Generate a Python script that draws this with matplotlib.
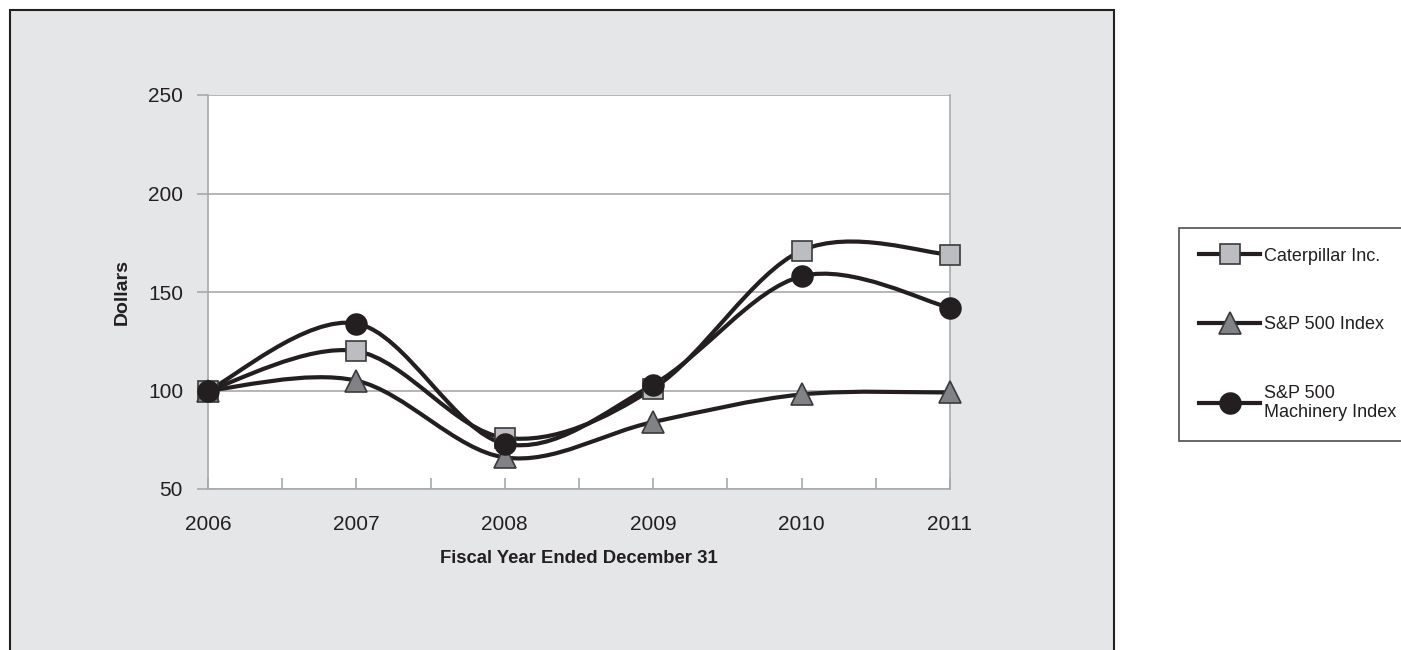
import matplotlib
matplotlib.use('Agg')
import matplotlib.pyplot as plt
from matplotlib.path import Path
from matplotlib.patches import PathPatch, Rectangle
from matplotlib.lines import Line2D

plt.rcParams['font.family'] = ['Liberation Sans Narrow', 'Liberation Sans', 'DejaVu Sans']

years = [2006, 2007, 2008, 2009, 2010, 2011]
caterpillar = [100, 120, 76, 101, 171, 169]
sp500 = [100, 105, 66, 84, 98, 99]
machinery = [100, 134, 73, 103, 158, 142]
series_names = ['Caterpillar Inc.', 'S&P 500 Index', 'S&P 500\nMachinery Index']


# smoothed line like the spreadsheet charts (bezier through the points)
def smooth_path(xs, ys):
    n = len(xs)
    verts = [(xs[0], ys[0])]
    codes = [Path.MOVETO]
    for i in range(n - 1):
        x0, y0 = xs[max(i - 1, 0)], ys[max(i - 1, 0)]
        x1, y1 = xs[i], ys[i]
        x2, y2 = xs[i + 1], ys[i + 1]
        x3, y3 = xs[min(i + 2, n - 1)], ys[min(i + 2, n - 1)]
        c1 = (x1 + (x2 - x0) / 6.0, y1 + (y2 - y0) / 6.0)
        c2 = (x2 - (x3 - x1) / 6.0, y2 - (y3 - y1) / 6.0)
        verts += [c1, c2, (x2, y2)]
        codes += [Path.CURVE4] * 3
    return Path(verts, codes)


fig = plt.figure(figsize=(14.01, 6.5), dpi=100)
fig.patch.set_facecolor('white')

# gray panel behind the chart
fig.patches.append(Rectangle((10 / 1401, -0.1), (1114 - 10) / 1401, 1.1 - 10 / 650,
                             transform=fig.transFigure, facecolor='#e5e6e8',
                             edgecolor='#231f20', linewidth=1.5, zorder=-5))

ax = fig.add_axes([208 / 1401, 1 - 489 / 650, (950 - 208) / 1401, (489 - 95) / 650])
ax.set_facecolor('white')

styles = [
    dict(marker='s', markersize=14, markerfacecolor='#bcbdc0', markeredgecolor='#3a3a3c'),
    dict(marker='^', markersize=16, markerfacecolor='#808285', markeredgecolor='#3a3a3c'),
    dict(marker='o', markersize=15, markerfacecolor='#231f20', markeredgecolor='#231f20'),
]
handles = []
for vals, st, name in zip([caterpillar, sp500, machinery], styles, series_names):
    ax.add_patch(PathPatch(smooth_path(years, vals), facecolor='none',
                           edgecolor='#231f20', linewidth=3.0, zorder=3,
                           capstyle='round', joinstyle='round'))
    ax.plot(years, vals, linestyle='none', zorder=4, clip_on=False,
            markeredgewidth=1.2, **st)
    handles.append(Line2D([], [], color='#231f20', linewidth=3.0,
                          markeredgewidth=1.2, label=name, **st))

ax.set_xlim(2006, 2011)
ax.set_ylim(50, 250)
ax.set_yticks([50, 100, 150, 200, 250])
ax.set_xticks(years)
ax.set_xticks([2006.5, 2007.5, 2008.5, 2009.5, 2010.5], minor=True)
ax.grid(axis='y', color='#a7a9ac', linewidth=1.2)
ax.set_axisbelow(True)
ax.spines['top'].set_visible(False)
for s in ['left', 'bottom', 'right']:
    ax.spines[s].set_color('#a7a9ac')
    ax.spines[s].set_linewidth(1.2)

ax.tick_params(axis='both', which='both', color='#a7a9ac', width=1.2, length=8,
               labelsize=15, labelcolor='#231f20')
ax.tick_params(axis='x', which='both', direction='in', pad=19)
ax.tick_params(axis='y', which='both', direction='out', pad=10)

ax.set_ylabel('Dollars', fontsize=14, fontweight='bold', color='#231f20', labelpad=12)
ax.set_xlabel('Fiscal Year Ended December 31', fontsize=13.3, fontweight='bold',
              color='#231f20', labelpad=11)

leg = fig.legend(handles=handles, loc='lower left',
                 bbox_to_anchor=(1179 / 1401, 1 - 441 / 650),
                 fontsize=13, frameon=True, fancybox=False, edgecolor='#231f20',
                 handlelength=3.4, handletextpad=0.2, labelspacing=2.85,
                 borderpad=1.1, borderaxespad=0)
leg.get_frame().set_linewidth(1.2)
for t in leg.get_texts():
    t.set_color('#231f20')

fig.savefig('out.png', dpi=100)
